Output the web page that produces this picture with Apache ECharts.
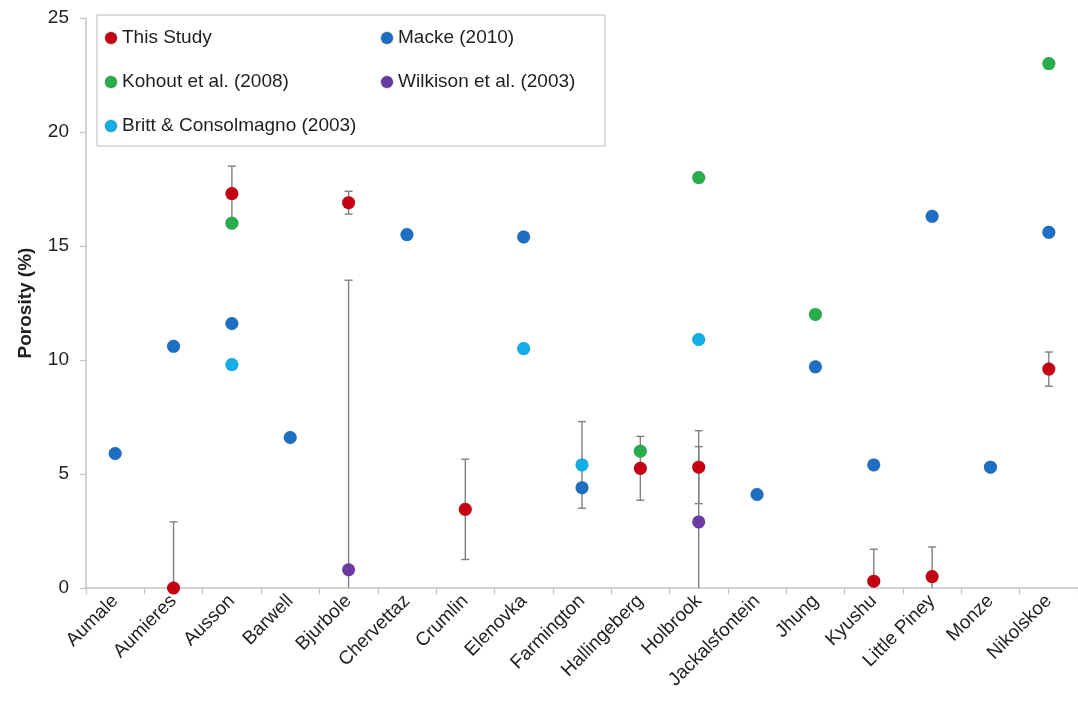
<!DOCTYPE html>
<html>
<head>
<meta charset="utf-8">
<title>Porosity by meteorite</title>
<script src="https://cdn.jsdelivr.net/npm/echarts@6/dist/echarts.min.js"></script>
<style>
  html, body { margin: 0; padding: 0; background: #ffffff; }
  #chart { width: 1078px; height: 705px; }
</style>
</head>
<body>
<div id="chart"></div>
<script>
// Meteorite names along the x axis
const categories = [
  'Aumale', 'Aumieres', 'Ausson', 'Barwell', 'Bjurbole', 'Chervettaz', 'Crumlin',
  'Elenovka', 'Farmington', 'Hallingeberg', 'Holbrook', 'Jackalsfontein', 'Jhung',
  'Kyushu', 'Little Piney', 'Monze', 'Nikolskoe'
];

// Porosity (%) per source; null where a source has no measurement
const thisStudy = [null, 0, 17.3, null, 16.9, null, 3.45, null, null, 5.25, 5.3, null, null, 0.3, 0.5, null, 9.6];
const thisStudyErr = [null, 2.9, 1.2, null, 0.5, null, 2.2, null, null, 1.4, 1.6, null, null, 1.4, 1.3, null, 0.75];

const macke = [5.9, 10.6, 11.6, 6.6, null, 15.5, null, 15.4, 4.4, null, null, 4.1, 9.7, 5.4, 16.3, 5.3, 15.6];

const kohout = [null, null, 16.0, null, null, null, null, null, null, 6.0, 18.0, null, 12.0, null, null, null, 23.0];

const wilkison = [null, null, null, null, 0.8, null, null, null, null, null, 2.9, null, null, null, null, null, null];
const wilkisonErr = [null, null, null, null, 12.7, null, null, null, null, null, 3.3, null, null, null, null, null, null];

const britt = [null, null, 9.8, null, null, null, null, 10.5, 5.4, null, 10.9, null, null, null, null, null, null];
const brittErr = [null, null, null, null, null, null, null, null, 1.9, null, null, null, null, null, null, null, null];

// Y axis range
const yMin = 0;
const yMax = 25;
const yStep = 5;

const FONT = "'Liberation Sans', Arial, Helvetica, sans-serif";
const TEXT = '#1f1f1f';
const AXIS = '#c4c4c4';

const COLORS = {
  thisStudy: '#c40012',
  macke: '#1c6fc2',
  kohout: '#28ad4b',
  wilkison: '#6b3ba1',
  britt: '#10afea'
};

// Turn value + symmetric error arrays into [index, low, high] items
function errorItems(values, errs) {
  const out = [];
  values.forEach((v, i) => {
    if (v != null && errs[i] != null) out.push([i, v - errs[i], v + errs[i]]);
  });
  return out;
}

const errorData = []
  .concat(errorItems(thisStudy, thisStudyErr))
  .concat(errorItems(wilkison, wilkisonErr))
  .concat(errorItems(britt, brittErr));

function renderErrorBar(params, api) {
  const idx = api.value(0);
  const lo = api.value(1);
  const hi = api.value(2);
  const loClipped = Math.max(lo, yMin);
  const top = api.coord([idx, hi]);
  const bottom = api.coord([idx, loClipped]);
  const half = 4;
  const style = { stroke: '#808080', lineWidth: 1.4 };
  const children = [
    { type: 'line', shape: { x1: top[0], y1: top[1], x2: bottom[0], y2: bottom[1] }, style },
    { type: 'line', shape: { x1: top[0] - half, y1: top[1], x2: top[0] + half, y2: top[1] }, style }
  ];
  if (lo > yMin) {
    children.push({ type: 'line', shape: { x1: bottom[0] - half, y1: bottom[1], x2: bottom[0] + half, y2: bottom[1] }, style });
  }
  return { type: 'group', children };
}

function scatter(name, data, color) {
  return {
    name,
    type: 'scatter',
    data,
    symbol: 'circle',
    symbolSize: 13,
    z: 3,
    itemStyle: { color, opacity: 1, borderColor: 'rgba(0,0,0,0.12)', borderWidth: 0.8 },
    emphasis: { disabled: true }
  };
}

const legendText = { fontFamily: FONT, fontSize: 19, color: TEXT, lineHeight: 20 };

const chart = echarts.init(document.getElementById('chart'), null, { renderer: 'canvas' });

chart.setOption({
  animation: false,
  backgroundColor: '#ffffff',
  grid: { left: 86, right: 0, top: 18, bottom: 117, containLabel: false },
  legend: [
    {
      data: ['This Study', 'Kohout et al. (2008)', 'Britt & Consolmagno (2003)'],
      orient: 'vertical',
      left: 99,
      top: 23,
      icon: 'circle',
      itemWidth: 12,
      itemHeight: 12,
      itemGap: 24,
      selectedMode: false,
      itemStyle: { opacity: 1 },
      textStyle: legendText
    },
    {
      data: ['Macke (2010)', 'Wilkison et al. (2003)'],
      orient: 'vertical',
      left: 375,
      top: 23,
      icon: 'circle',
      itemWidth: 12,
      itemHeight: 12,
      itemGap: 24,
      selectedMode: false,
      itemStyle: { opacity: 1 },
      textStyle: legendText
    }
  ],
  graphic: [
    {
      type: 'rect',
      left: 96.5,
      top: 14.5,
      shape: { width: 508, height: 131 },
      style: { fill: '#ffffff', stroke: '#bdbdbd', lineWidth: 1 },
      z: -1,
      silent: true
    }
  ],
  xAxis: {
    type: 'category',
    data: categories,
    boundaryGap: true,
    axisLine: { lineStyle: { color: AXIS, width: 1.5 } },
    axisTick: { show: true, alignWithLabel: false, length: 6, lineStyle: { color: AXIS, width: 1.2 } },
    axisLabel: {
      interval: 0,
      rotate: 45,
      margin: 10,
      fontFamily: FONT,
      fontSize: 19,
      color: TEXT
    },
    splitLine: { show: false }
  },
  yAxis: {
    type: 'value',
    min: yMin,
    max: yMax,
    interval: yStep,
    name: 'Porosity (%)',
    nameLocation: 'middle',
    nameGap: 51,
    nameTextStyle: { fontFamily: FONT, fontSize: 19, fontWeight: 'bold', color: TEXT },
    axisLine: { show: true, lineStyle: { color: AXIS, width: 1.5 } },
    axisTick: { show: true, length: 6, lineStyle: { color: AXIS, width: 1.2 } },
    axisLabel: { margin: 17, fontFamily: FONT, fontSize: 19, color: TEXT },
    splitLine: { show: false }
  },
  series: [
    {
      name: 'error',
      type: 'custom',
      renderItem: renderErrorBar,
      data: errorData,
      encode: { x: 0, y: [1, 2] },
      z: 1,
      silent: true
    },
    scatter('This Study', thisStudy, COLORS.thisStudy),
    scatter('Macke (2010)', macke, COLORS.macke),
    scatter('Kohout et al. (2008)', kohout, COLORS.kohout),
    scatter('Wilkison et al. (2003)', wilkison, COLORS.wilkison),
    scatter('Britt & Consolmagno (2003)', britt, COLORS.britt)
  ]
});
</script>
</body>
</html>
